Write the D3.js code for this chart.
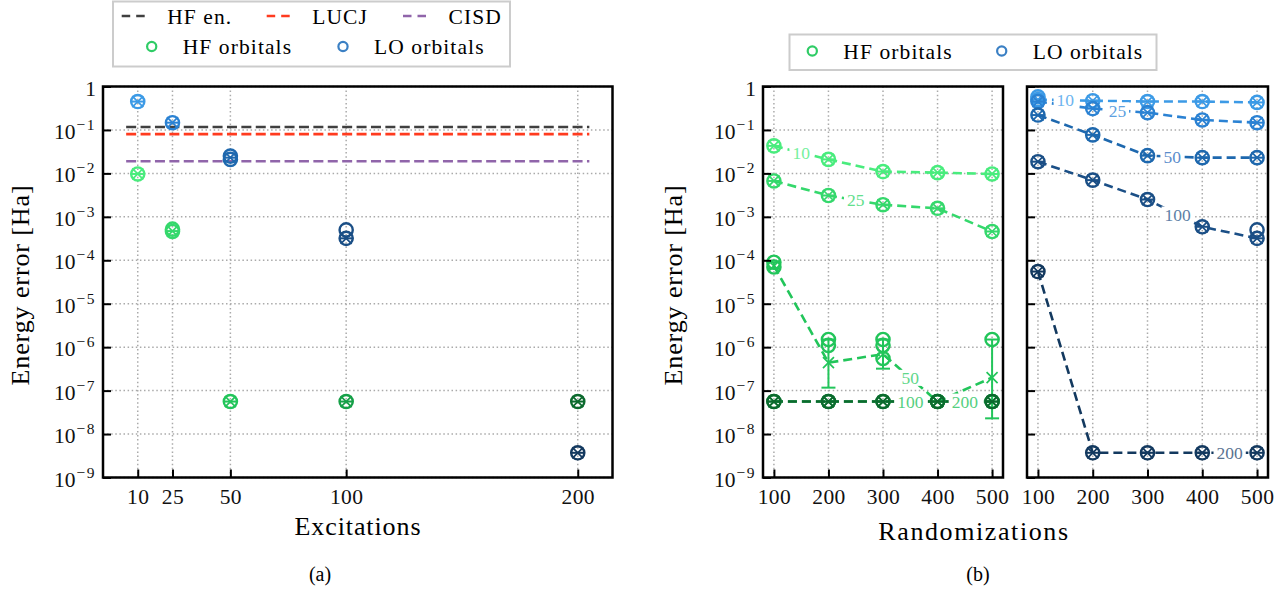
<!DOCTYPE html>
<html><head><meta charset="utf-8">
<script src="https://cdn.jsdelivr.net/npm/d3@7/dist/d3.min.js"></script>
<style>
body{margin:0;background:#fff;}
svg{display:block;}
svg text{font-family:"Liberation Serif","Times New Roman",serif !important;}
</style></head><body>
<svg id="c" width="1288" height="591"></svg>
<script>
// ---------------- data ----------------
const excitations = [10, 25, 50, 100, 200];
const randomizations = [100, 200, 300, 400, 500];
const decades = [1e-9, 1e-8, 1e-7, 1e-6, 1e-5, 1e-4, 1e-3, 1e-2, 1e-1, 1];

const refLabels = ["HF en.", "LUCJ", "CISD"];
const refValues = [0.117, 0.080, 0.019];

// panel (a): best energy error per number of excitations
const hfBest = [0.0097, 4.7e-4, 5.6e-8, 5.6e-8, 5.6e-8];
const hfBestSamples = [[0.0097], [5.2e-4, 4.6e-4], [5.6e-8], [5.6e-8], [5.6e-8]];
const loBest = [0.45, 0.147, 0.023, 3.2e-4, 3.7e-9];
const loBestSamples = [[0.45], [0.147], [0.025, 0.021], [5.0e-4, 3.2e-4], [3.7e-9]];

// panel (b): energy error vs randomizations, one series per excitation count
const hf10 = [0.043, 0.021, 0.011, 0.0104, 0.0097];
const hf25 = [0.0067, 0.0031, 0.0019, 0.00157, 0.00046];
const hf50 = [7.4e-5, 4.4e-7, 6.9e-7, 5.6e-8, 2.0e-7];
const hf50Samples = [[9.0e-5, 7.0e-5], [1.5e-6, 1.1e-6], [1.5e-6, 1.1e-6, 5.5e-7], [5.6e-8], [1.5e-6, 5.6e-8]];
const hf50Low = [6.5e-5, 1.17e-7, 3.2e-7, 5.6e-8, 2.3e-8];
const hf50High = [9.0e-5, 1.5e-6, 1.5e-6, 5.6e-8, 1.5e-6];
const hf100 = [5.6e-8, 5.6e-8, 5.6e-8, 5.6e-8, 5.6e-8];
const hf200 = [5.6e-8, 5.6e-8, 5.6e-8, 5.6e-8, 5.6e-8];

const lo10 = [0.50, 0.47, 0.45, 0.45, 0.43];
const lo10Samples = [[0.58, 0.50], [0.47], [0.45], [0.45], [0.43]];
const lo25 = [0.45, 0.31, 0.25, 0.17, 0.147];
const lo50 = [0.22, 0.077, 0.0256, 0.023, 0.023];
const lo100 = [0.0186, 0.0070, 0.0025, 5.9e-4, 3.2e-4];
const lo100Samples = [[0.0186], [0.0070], [0.0025], [5.9e-4], [5.0e-4, 3.2e-4]];
const lo200 = [5.5e-5, 3.7e-9, 3.7e-9, 3.7e-9, 3.7e-9];

// inline label positions (in randomizations units)
const hfLabelX = [150, 250, 350, 350, 450];
const loLabelX = [150, 245, 345, 355, 450];

// ---------------- styles ----------------
const refColors = ["#404040", "#ff3b1f", "#9065aa"];
const hfColors = ["#49ec7d", "#35d86c", "#22c55a", "#16a048", "#0c6a2e"];
const loColors = ["#3c9ae6", "#2b82d3", "#1e68ae", "#1b4f86", "#13395f"];
const hfLabelColors = ["#74f09c", "#62e08d", "#5fd78a", "#55cf80", "#55cf80"];
const loLabelColors = ["#6cb4ef", "#5c9fe0", "#5a8ccb", "#5d7fa6", "#5a7290"];
const legendGreen = "#2fcc66", legendBlue = "#3b80c4";

const svg = d3.select("#c");
const TOP = 86.5, BOT = 477.5;
const y = d3.scaleLog().domain([1e-9, 1]).range([BOT, TOP]);

function supLabel(textSel) {
  textSel.each(function(d) {
    const t = d3.select(this);
    t.text(null).attr("dy", null).attr("y", 8.5);
    const e = Math.round(Math.log10(d));
    if (e === 0) { t.append("tspan").text("1"); return; }
    t.append("tspan").text("10");
    t.append("tspan").attr("dy", -9).attr("dx", 1).attr("font-size", 15.5)
      .attr("letter-spacing", 1.5).text("\u2212" + Math.abs(e));
  });
}

function grid(g, x, xs, left, right) {
  const gg = g.append("g").attr("stroke", "#aaaaaa").attr("stroke-width", 1.5)
    .attr("stroke-dasharray", "1.5,2.6").attr("fill", "none");
  xs.forEach(v => gg.append("line").attr("x1", x(v)).attr("x2", x(v)).attr("y1", TOP).attr("y2", BOT));
  decades.forEach(v => gg.append("line").attr("x1", left).attr("x2", right).attr("y1", y(v)).attr("y2", y(v)));
}

function axes(g, x, xs, left, right, showY) {
  const bx = g.append("g").attr("transform", `translate(0,${BOT})`)
    .call(d3.axisBottom(x).tickValues(xs).tickSizeInner(-8).tickSizeOuter(0).tickPadding(11));
  bx.attr("font-family", null).attr("font-size", 21.5);
  bx.select(".domain").remove();
  bx.selectAll("line").attr("stroke", "#000").attr("stroke-width", 2);
  bx.selectAll("text").attr("fill", "#111").attr("letter-spacing", 0.4);
  const ly = g.append("g").attr("transform", `translate(${left},0)`)
    .call(d3.axisLeft(y).tickValues(decades).tickSizeInner(-8).tickSizeOuter(0).tickPadding(7));
  ly.attr("font-family", null).attr("font-size", 21.5);
  ly.select(".domain").remove();
  ly.selectAll("line").attr("stroke", "#000").attr("stroke-width", 2);
  ly.selectAll("text").attr("fill", "#111");
  if (showY) supLabel(ly.selectAll("text")); else ly.selectAll("text").remove();
  g.append("rect").attr("x", left).attr("y", TOP).attr("width", right - left).attr("height", BOT - TOP)
    .attr("fill", "none").attr("stroke", "#000").attr("stroke-width", 2.5);
}

function marker(g, cx, mean, samples, lo, hi, color) {
  const m = g.append("g").attr("stroke", color).attr("fill", "none");
  if (lo != null && hi != null && lo !== hi) {
    m.append("line").attr("x1", cx).attr("x2", cx).attr("y1", y(lo)).attr("y2", y(hi)).attr("stroke-width", 2);
    [lo, hi].forEach(v => m.append("line").attr("x1", cx - 7).attr("x2", cx + 7).attr("y1", y(v)).attr("y2", y(v)).attr("stroke-width", 2));
  } else {
    m.append("line").attr("x1", cx - 7).attr("x2", cx + 7).attr("y1", y(mean)).attr("y2", y(mean)).attr("stroke-width", 2);
  }
  samples.forEach(s => m.append("circle").attr("cx", cx).attr("cy", y(s)).attr("r", 6.6).attr("stroke-width", 2.4));
  const my = y(mean), s = 5.5;
  m.append("path").attr("d", `M${cx - s},${my - s}L${cx + s},${my + s}M${cx - s},${my + s}L${cx + s},${my - s}`)
    .attr("stroke-width", 1.7);
}

// ---------------- panel (a) ----------------
const xA = d3.scaleLinear().domain([-5, 215]).range([103, 612.5]);
const gA = svg.append("g");
grid(gA, xA, excitations, 103, 612.5);
refValues.forEach((v, i) => {
  gA.append("line").attr("x1", xA(5)).attr("x2", xA(205)).attr("y1", y(v)).attr("y2", y(v))
    .attr("stroke", refColors[i]).attr("stroke-width", 2.6).attr("stroke-dasharray", "10,4.4");
});
excitations.forEach((e, i) => {
  marker(gA, xA(e), hfBest[i], hfBestSamples[i], null, null, hfColors[i]);
  marker(gA, xA(e), loBest[i], loBestSamples[i], null, null, loColors[i]);
});
axes(gA, xA, excitations, 103, 612.5, true);
gA.append("text").attr("x", 358).attr("y", 535).attr("text-anchor", "middle").attr("font-size", 26)
  .attr("letter-spacing", 0.9).text("Excitations");
gA.append("text").attr("transform", "translate(29,285) rotate(-90)").attr("text-anchor", "middle")
  .attr("font-size", 26).attr("letter-spacing", 0.9).text("Energy error [Ha]");
gA.append("text").attr("x", 320).attr("y", 581).attr("text-anchor", "middle").attr("font-size", 20).text("(a)");

// legend (a)
const lgA = svg.append("g");
lgA.append("rect").attr("x", 113).attr("y", 1.5).attr("width", 397).attr("height", 65)
  .attr("fill", "#fff").attr("stroke", "#cccccc").attr("stroke-width", 2);
const legX = [121.7, 266.7, 403];
refLabels.forEach((lab, i) => {
  lgA.append("line").attr("x1", legX[i]).attr("x2", legX[i] + 24).attr("y1", 16).attr("y2", 16)
    .attr("stroke", refColors[i]).attr("stroke-width", 2.6).attr("stroke-dasharray", "8.5,6");
  lgA.append("text").attr("x", legX[i] + 45.5).attr("y", 24).attr("font-size", 21.5).attr("letter-spacing", 1.1).text(lab);
});
[[151.7, legendGreen, "HF orbitals"], [343, legendBlue, "LO orbitals"]].forEach(([cx, col, lab]) => {
  lgA.append("circle").attr("cx", cx).attr("cy", 46.5).attr("r", 4.6).attr("fill", "none").attr("stroke", col).attr("stroke-width", 2.2);
  lgA.append("text").attr("x", cx + 31).attr("y", 54).attr("font-size", 21.5).attr("letter-spacing", 1.1).text(lab);
});

// ---------------- panel (b) ----------------
function interpLog(xs, vs, xv) {
  for (let k = 0; k < xs.length - 1; k++) {
    if (xv >= xs[k] && xv <= xs[k + 1]) {
      const t = (xv - xs[k]) / (xs[k + 1] - xs[k]);
      return Math.pow(10, Math.log10(vs[k]) + t * (Math.log10(vs[k + 1]) - Math.log10(vs[k])));
    }
  }
  return vs[vs.length - 1];
}

function panelB(left, right, series, labels, labelX, colors, labelColors, showY) {
  const x = d3.scaleLinear().domain([80, 520]).range([left, right]);
  const g = svg.append("g");
  grid(g, x, randomizations, left, right);
  const line = d3.line().x((d, i) => x(randomizations[i])).y(d => y(d));
  series.forEach((s, k) => {
    g.append("path").attr("d", line(s.mean)).attr("fill", "none").attr("stroke", colors[k])
      .attr("stroke-width", 2.6).attr("stroke-dasharray", "9,5");
  });
  series.forEach((s, k) => {
    const lx = x(labelX[k]), ly = y(interpLog(randomizations, s.mean, labelX[k]));
    const lg = g.append("g");
    const bg = lg.append("rect").attr("fill", "#fff");
    const t = lg.append("text").attr("x", lx).attr("y", ly).attr("dy", "0.35em").attr("text-anchor", "middle")
      .attr("font-size", 17.5).attr("fill", labelColors[k]).text(labels[k]);
    const w = t.node().getComputedTextLength();
    bg.attr("x", lx - w / 2 - 3).attr("y", ly - 8).attr("width", w + 6).attr("height", 16);
  });
  series.forEach((s, k) => {
    s.mean.forEach((v, i) => {
      marker(g, x(randomizations[i]), v, s.samples ? s.samples[i] : [v],
        s.low ? s.low[i] : null, s.high ? s.high[i] : null, colors[k]);
    });
  });
  axes(g, x, randomizations, left, right, showY);
  return g;
}

const excLabels = excitations.map(String);
panelB(763, 1003, [
  {mean: hf10}, {mean: hf25},
  {mean: hf50, samples: hf50Samples, low: hf50Low, high: hf50High},
  {mean: hf100}, {mean: hf200}
], excLabels, hfLabelX, hfColors, hfLabelColors, true);

panelB(1027, 1268, [
  {mean: lo10, samples: lo10Samples}, {mean: lo25}, {mean: lo50},
  {mean: lo100, samples: lo100Samples}, {mean: lo200}
], excLabels, loLabelX, loColors, loLabelColors, false);

svg.append("text").attr("x", 974).attr("y", 540).attr("text-anchor", "middle").attr("font-size", 26)
  .attr("letter-spacing", 1.6).text("Randomizations");
svg.append("text").attr("transform", "translate(682,285) rotate(-90)").attr("text-anchor", "middle")
  .attr("font-size", 26).attr("letter-spacing", 0.9).text("Energy error [Ha]");
svg.append("text").attr("x", 978).attr("y", 581).attr("text-anchor", "middle").attr("font-size", 20).text("(b)");

// legend (b)
const lgB = svg.append("g");
lgB.append("rect").attr("x", 789.5).attr("y", 34.5).attr("width", 367).attr("height", 35.5)
  .attr("fill", "#fff").attr("stroke", "#cccccc").attr("stroke-width", 2);
[[812.3, legendGreen, "HF orbitals"], [1001.7, legendBlue, "LO orbitals"]].forEach(([cx, col, lab]) => {
  lgB.append("circle").attr("cx", cx).attr("cy", 51).attr("r", 4.6).attr("fill", "none").attr("stroke", col).attr("stroke-width", 2.2);
  lgB.append("text").attr("x", cx + 31).attr("y", 58.5).attr("font-size", 21.5).attr("letter-spacing", 1.1).text(lab);
});
</script>
</body></html>
